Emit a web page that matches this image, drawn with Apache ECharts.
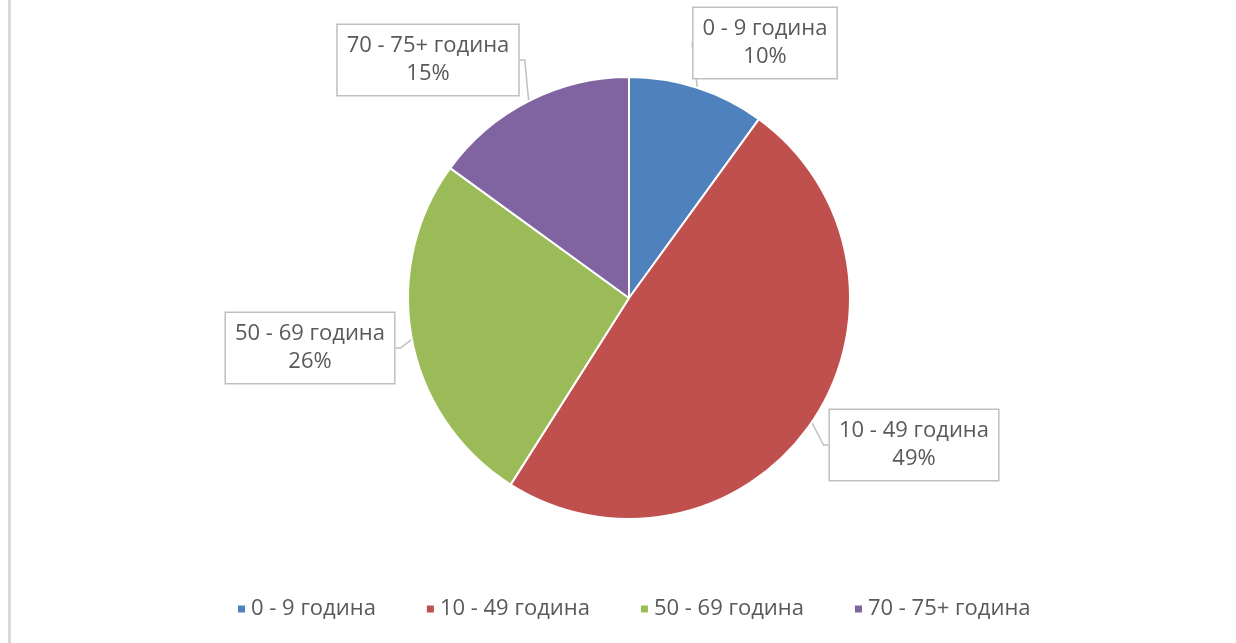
<!DOCTYPE html>
<html>
<head>
<meta charset="utf-8">
<script src="https://cdn.jsdelivr.net/npm/echarts@6/dist/echarts.min.js"></script>
<style>
html,body{margin:0;padding:0;background:#fff;}
#c{width:1236px;height:643px;}
</style>
</head>
<body>
<div id="c"></div>
<script>
const categories = ['0 - 9 година', '10 - 49 година', '50 - 69 година', '70 - 75+ година'];
const values = [10, 49, 26, 15];
const colors = ['#4f81bd', '#c0504d', '#9bbb59', '#8064a2'];

const labelPos = [[765, 43], [914, 445], [310, 348], [428, 60]];

const chart = echarts.init(document.getElementById('c'));
const FONT = 'Open Sans';
chart.setOption({
  animation: false,
  backgroundColor: '#ffffff',
  color: colors,
  graphic: [{
    type: 'rect',
    shape: { x: 8, y: 0, width: 3, height: 643 },
    style: { fill: '#d9d9d9' }
  }],
  legend: {
    data: categories,
    top: 593,
    left: 231,
    padding: 5,
    icon: 'rect',
    itemWidth: 9,
    itemHeight: 9,
    itemGap: 49,
    textStyle: { color: '#595959', fontSize: 22, fontFamily: FONT }
  },
  series: [{
    type: 'pie',
    center: [629, 298],
    radius: 221,
    startAngle: 90,
    clockwise: true,
    itemStyle: { borderColor: '#ffffff', borderWidth: 2 },
    label: {
      show: true,
      position: 'outside',
      formatter: '{b}\n{d}%',
      color: '#595959',
      fontSize: 22,
      fontFamily: FONT,
      lineHeight: 28,
      align: 'center',
      backgroundColor: '#ffffff',
      borderColor: '#bfbfbf',
      borderWidth: 1.5,
      padding: [7, 9, 7, 9]
    },
    labelLine: {
      show: true,
      length: 5,
      length2: 5,
      lineStyle: { color: '#bfbfbf', width: 1.5 }
    },
    labelLayout: function (p) {
      const pos = labelPos[p.dataIndex];
      return { x: pos[0], y: pos[1], align: 'center', verticalAlign: 'middle' };
    },
    emphasis: { disabled: true },
    data: categories.map((c, i) => ({ name: c, value: values[i] }))
  }]
});
</script>
</body>
</html>
